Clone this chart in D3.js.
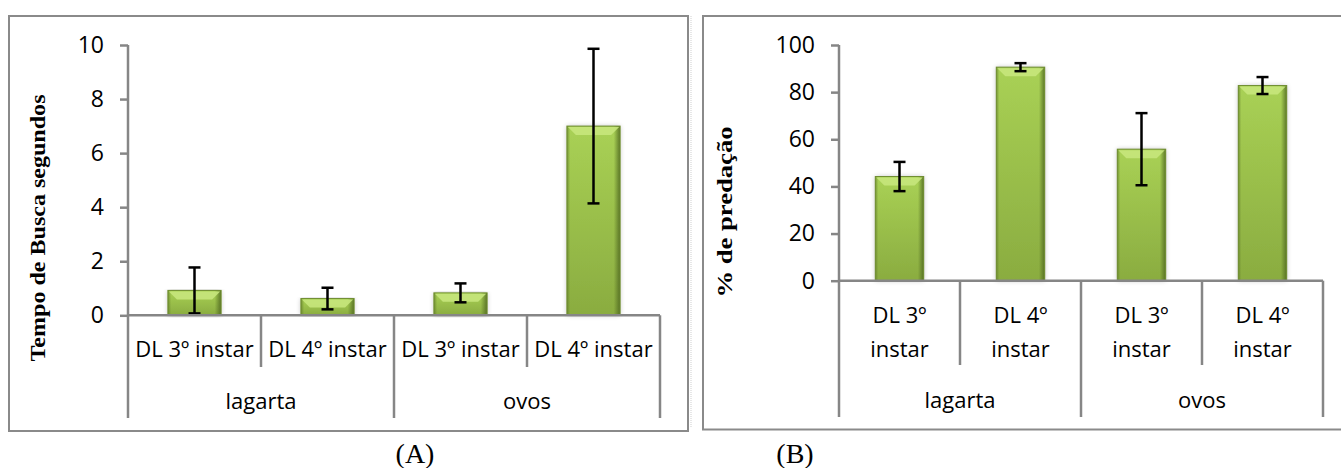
<!DOCTYPE html>
<html>
<head>
<meta charset="utf-8">
<script src="https://cdn.jsdelivr.net/npm/d3@7"></script>
<style>
  body { margin: 0; background: #fff; }
  svg { display: block; }
</style>
</head>
<body>
<svg id="chart" width="1341" height="468"></svg>
<script>
// Data
const groups = ["lagarta", "ovos"];
const stages = ["DL 3º instar", "DL 4º instar"];
const stageLines = [["DL 3º", "instar"], ["DL 4º", "instar"]];

// (A) Tempo de Busca (segundos)
const tempoMean = [0.92, 0.62, 0.83, 7.0];
const tempoErr = [0.85, 0.40, 0.35, 2.86];
const tempoTicks = [0, 2, 4, 6, 8, 10];

// (B) % de predação
const predMean = [44.2, 90.6, 55.8, 82.8];
const predErr = [6.2, 1.7, 15.3, 3.6];
const predTicks = [0, 20, 40, 60, 80, 100];

const svg = d3.select("#chart");
const axisColor = "#868686";
const labelFont = "'Open Sans', sans-serif";
const serifFont = "'Liberation Serif', 'Times New Roman', serif";

// gradients for the bevelled bars
const defs = svg.append("defs");
const vGrad = defs.append("linearGradient").attr("id", "barV")
    .attr("x1", 0).attr("y1", 0).attr("x2", 0).attr("y2", 1);
vGrad.append("stop").attr("offset", "0%").attr("stop-color", "#a9d155");
vGrad.append("stop").attr("offset", "100%").attr("stop-color", "#8aac40");

const hGrad = defs.append("linearGradient").attr("id", "barH")
    .attr("x1", 0).attr("y1", 0).attr("x2", 1).attr("y2", 0);
hGrad.append("stop").attr("offset", "0%").attr("stop-color", "#5f7a27").attr("stop-opacity", 0.7);
hGrad.append("stop").attr("offset", "6%").attr("stop-color", "#5f7a27").attr("stop-opacity", 0);
hGrad.append("stop").attr("offset", "88%").attr("stop-color", "#4f6820").attr("stop-opacity", 0);
hGrad.append("stop").attr("offset", "100%").attr("stop-color", "#4f6820").attr("stop-opacity", 0.85);

const shadow = defs.append("filter").attr("id", "shadow")
    .attr("x", "-20%").attr("y", "-5%").attr("width", "140%").attr("height", "115%");
shadow.append("feGaussianBlur").attr("in", "SourceAlpha").attr("stdDeviation", 2.5).attr("result", "blur");
shadow.append("feComponentTransfer").attr("in", "blur").attr("result", "soft")
    .append("feFuncA").attr("type", "linear").attr("slope", 0.25);
const merge = shadow.append("feMerge");
merge.append("feMergeNode").attr("in", "soft");
merge.append("feMergeNode").attr("in", "SourceGraphic");

// Function to draw one panel
function drawPanel(p) {
    const g = svg.append("g");

    // frame
    g.append("rect")
        .attr("x", p.frame[0]).attr("y", p.frame[1])
        .attr("width", p.frame[2] - p.frame[0]).attr("height", p.frame[3] - p.frame[1])
        .attr("fill", "none").attr("stroke", "#8a8a8a").attr("stroke-width", 2);

    const keys = d3.range(p.mean.length);
    const x = d3.scaleBand().domain(keys).range([p.x0, p.x1])
        .paddingInner(0.6).paddingOuter(0.3);
    const step = (p.x1 - p.x0) / keys.length;
    const y = d3.scaleLinear().domain([0, p.ticks[p.ticks.length - 1]]).range([p.y0, p.y1]);

    // y axis
    const ya = g.append("g")
        .attr("transform", `translate(${p.x0},0)`)
        .call(d3.axisLeft(y).tickValues(p.ticks).tickSize(8).tickPadding(16));
    ya.select(".domain").attr("stroke", axisColor).attr("stroke-width", 2.5)
        .attr("d", `M0,${p.y1}V${p.y0}`);
    ya.selectAll(".tick line").attr("stroke", axisColor).attr("stroke-width", 2.5);
    ya.selectAll(".tick text")
        .attr("font-family", labelFont).attr("font-size", 23).attr("fill", "#000");

    // bars
    const bars = g.selectAll(".bar").data(keys).join("g").attr("class", "bar");
    bars.append("rect")
        .attr("x", i => x(i)).attr("y", i => y(p.mean[i]))
        .attr("width", x.bandwidth()).attr("height", i => p.y0 - y(p.mean[i]))
        .attr("fill", "url(#barV)").attr("filter", "url(#shadow)");
    bars.append("rect")
        .attr("x", i => x(i)).attr("y", i => y(p.mean[i]))
        .attr("width", x.bandwidth()).attr("height", i => p.y0 - y(p.mean[i]))
        .attr("fill", "url(#barH)")
        .attr("stroke", "#6f8d30").attr("stroke-width", 1);
    bars.append("path")
        .attr("fill", "#c6e57c").attr("opacity", 0.9)
        .attr("d", i => {
            const x0 = x(i) + 1, x1 = x(i) + x.bandwidth() - 1, yt = y(p.mean[i]) + 1;
            const h = Math.min(8, (p.y0 - y(p.mean[i])) / 2);
            return `M${x0},${yt}H${x1}L${x1 - 8},${yt + h}H${x0 + 8}Z`;
        });

    // error bars
    const err = g.selectAll(".err").data(keys).join("g").attr("class", "err")
        .attr("stroke", "#000").attr("stroke-width", 2.5);
    const cx = i => x(i) + x.bandwidth() / 2;
    err.append("line")
        .attr("x1", cx).attr("x2", cx)
        .attr("y1", i => y(p.mean[i] + p.err[i])).attr("y2", i => y(p.mean[i] - p.err[i]));
    err.append("line")
        .attr("x1", i => cx(i) - 6).attr("x2", i => cx(i) + 6)
        .attr("y1", i => y(p.mean[i] + p.err[i])).attr("y2", i => y(p.mean[i] + p.err[i]));
    err.append("line")
        .attr("x1", i => cx(i) - 6).attr("x2", i => cx(i) + 6)
        .attr("y1", i => y(p.mean[i] - p.err[i])).attr("y2", i => y(p.mean[i] - p.err[i]));

    // x axis line and category dividers
    g.append("line")
        .attr("x1", p.x0).attr("x2", p.x1).attr("y1", p.y0).attr("y2", p.y0)
        .attr("stroke", axisColor).attr("stroke-width", 2.5);
    d3.range(keys.length + 1).forEach(k => {
        const groupEdge = k % stages.length === 0;
        g.append("line")
            .attr("x1", p.x0 + k * step).attr("x2", p.x0 + k * step)
            .attr("y1", p.y0).attr("y2", groupEdge ? p.groupBottom : p.stageBottom)
            .attr("stroke", axisColor).attr("stroke-width", 2.5);
    });

    // stage labels
    keys.forEach(i => {
        const s = i % stages.length;
        const t = g.append("text")
            .attr("x", cx(i)).attr("text-anchor", "middle")
            .attr("font-family", labelFont).attr("font-size", p.stageSize).attr("fill", "#000");
        if (p.wrap) {
            stageLines[s].forEach((line, j) => {
                t.append("tspan").attr("x", cx(i)).attr("y", p.stageBase[j]).text(line);
            });
        } else {
            t.attr("y", p.stageBase[0]).text(stages[s]);
        }
    });

    // group labels
    groups.forEach((grp, j) => {
        g.append("text")
            .attr("x", p.x0 + (j + 0.5) * step * stages.length).attr("y", p.groupBase)
            .attr("text-anchor", "middle")
            .attr("font-family", labelFont).attr("font-size", 22).attr("fill", "#000")
            .text(grp);
    });

    // y axis title
    g.append("text")
        .attr("transform", `translate(${p.titleX},${p.titleY}) rotate(-90)`)
        .attr("text-anchor", "middle")
        .attr("font-family", serifFont)
        .attr("font-weight", "bold").attr("font-size", 20)
        .attr("textLength", p.titleLen).attr("lengthAdjust", "spacingAndGlyphs")
        .text(p.title);

    // caption
    svg.append("text")
        .attr("x", p.capX).attr("y", 463).attr("text-anchor", "middle")
        .attr("font-family", serifFont)
        .attr("font-size", 28).attr("fill", "#000")
        .text(p.caption);
}

drawPanel({
    frame: [9, 16, 688, 431],
    x0: 128, x1: 660, y0: 315.3, y1: 45,
    mean: tempoMean, err: tempoErr, ticks: tempoTicks,
    wrap: false, stageSize: 22, stageBase: [357],
    stageBottom: 367, groupBottom: 418, groupBase: 409,
    title: "Tempo de Busca segundos", titleX: 45, titleY: 228, titleLen: 267,
    caption: "(A)", capX: 415
});

drawPanel({
    frame: [703, 16, 1343, 429.5],
    x0: 839, x1: 1323, y0: 280.7, y1: 45,
    mean: predMean, err: predErr, ticks: predTicks,
    wrap: true, stageSize: 22, stageBase: [323, 357],
    stageBottom: 365, groupBottom: 417, groupBase: 408,
    title: "% de predação", titleX: 732, titleY: 212, titleLen: 171,
    caption: "(B)", capX: 795
});

// faint dotted separator left of panel B
svg.append("line")
    .attr("x1", 691).attr("x2", 691).attr("y1", 16).attr("y2", 428)
    .attr("stroke", "#cfcfcf").attr("stroke-width", 1).attr("stroke-dasharray", "1,1");
</script>
</body>
</html>
